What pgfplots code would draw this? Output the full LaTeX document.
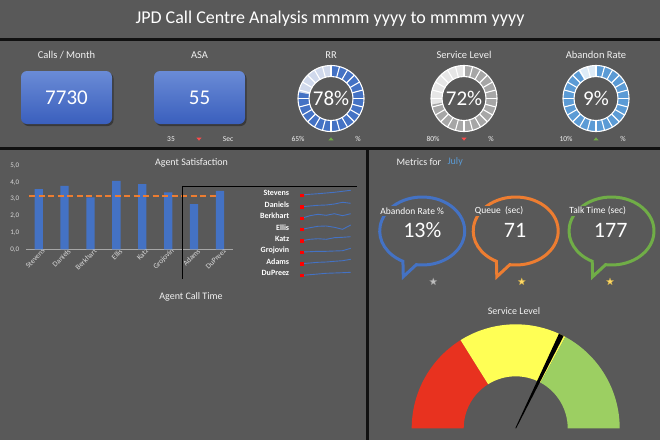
\documentclass[border=0pt]{standalone}
\usepackage{pgfplots}
\pgfplotsset{compat=1.18}
\usepackage{fontspec}
\setmainfont{Carlito}
\usetikzlibrary{calc,shapes.geometric}

\definecolor{bg}{HTML}{595959}
\definecolor{sep}{HTML}{111111}
\definecolor{txt}{HTML}{F2F2F2}
\definecolor{kpitop}{HTML}{6A8BD6}
\definecolor{kpibot}{HTML}{3A5FBD}
\definecolor{rrdark}{HTML}{4472C4}
\definecolor{rrlight}{HTML}{D0D9EC}
\definecolor{sldark}{HTML}{A6A6A6}
\definecolor{sllight}{HTML}{E6E6E6}
\definecolor{abdark}{HTML}{5B9BD5}
\definecolor{ablight}{HTML}{DDEBF7}
\definecolor{barblue}{HTML}{4472C4}
\definecolor{dashor}{HTML}{ED7D31}
\definecolor{bubblue}{HTML}{4472C4}
\definecolor{buborange}{HTML}{ED7D31}
\definecolor{bubgreen}{HTML}{70AD47}
\definecolor{julyblue}{HTML}{5B9BD5}
\definecolor{gred}{HTML}{E8321F}
\definecolor{gyellow}{HTML}{FFFF55}
\definecolor{ggreen}{HTML}{9CCF62}
\definecolor{upgreen}{HTML}{70AD47}
\definecolor{downred}{HTML}{FF4B4B}
\definecolor{ticktxt}{HTML}{D9D9D9}
\definecolor{baseline}{HTML}{A6A6A6}
\definecolor{stargray}{HTML}{BFBFBF}
\definecolor{stargold}{HTML}{FFD966}

% segmented progress ring: centre x, centre y, filled percent, fill colour, empty colour, label
\newcommand{\donut}[6]{%
  \pgfmathsetmacro{\endang}{90-3.6*#3}%
  \fill[#5,even odd rule] (#1,#2) circle[radius=33pt] (#1,#2) circle[radius=22pt];
  \fill[#4] ($(#1,#2)+(90:33pt)$) arc[start angle=90,end angle=\endang,radius=33pt]
        -- ($(#1,#2)+(\endang:22pt)$) arc[start angle=\endang,end angle=90,radius=22pt] -- cycle;
  \foreach \a in {0,15,...,345}
    \draw[white,line width=1.1pt] ($(#1,#2)+(\a:22pt)$) -- ($(#1,#2)+(\a:33pt)$);
  \draw[white,line width=1.1pt] (#1,#2) circle[radius=33pt] (#1,#2) circle[radius=22pt];
  \node[text=white,font=\fontsize{21}{21}\selectfont] at (#1,#2) {#6};
}
\newcommand{\uptri}[2]{\fill[upgreen] ($(#1,#2)+(-2.6,-1.4)$) -- ($(#1,#2)+(2.6,-1.4)$) -- ($(#1,#2)+(0,1.6)$) -- cycle;}
\newcommand{\downtri}[2]{\fill[downred] ($(#1,#2)+(-2.6,1.4)$) -- ($(#1,#2)+(2.6,1.4)$) -- ($(#1,#2)+(0,-1.6)$) -- cycle;}
% speech bubble outline: centre x, centre y, colour
\newcommand{\bubble}[3]{%
  \draw[#3,line width=3pt,line join=miter]
    ($(#1,#2)+(262:42.5pt and 34pt)$) arc[start angle=262,end angle=603,x radius=42.5pt,y radius=34pt]
    -- ($(#1,#2)+(-18.9,-45.7)$) -- cycle;
}

\begin{document}
\begin{tikzpicture}[x=1pt,y=1pt]
% background and panel separators
\fill[bg] (0,0) rectangle (660,-440);
\fill[sep] (0,-38.3) rectangle (660,-40.8);
\fill[sep] (0,-147.3) rectangle (660,-150.3);
\fill[sep] (366,-150) rectangle (369.3,-440);

% title
\node[text=white,font=\fontsize{18}{20}\selectfont] at (330,-19) {JPD Call Centre Analysis mmmm yyyy to mmmm yyyy};

% KPI tiles
\begin{scope}[every node/.style={text=txt,font=\fontsize{10.5}{12}\selectfont}]
\node at (66.5,-55) {Calls / Month};
\node at (199.5,-55) {ASA};
\node at (331,-55) {RR};
\node at (464,-55) {Service Level};
\node at (596,-55) {Abandon Rate};
\end{scope}
\fill[black,opacity=0.35,rounded corners=6pt] (22.5,-72.5) rectangle (113.5,-126);
\shade[top color=kpitop,bottom color=kpibot,rounded corners=6pt] (21,-71) rectangle (112,-124);
\fill[black,opacity=0.35,rounded corners=6pt] (155.5,-72.5) rectangle (246.5,-126);
\shade[top color=kpitop,bottom color=kpibot,rounded corners=6pt] (154,-71) rectangle (245,-124);
\node[text=white,font=\fontsize{21}{21}\selectfont] at (66.5,-98) {7730};
\node[text=white,font=\fontsize{21}{21}\selectfont] at (199.5,-98) {55};

\donut{331}{-98.5}{78}{rrdark}{rrlight}{78\%}
\donut{464}{-98.5}{72}{sldark}{sllight}{72\%}
\donut{596}{-98.5}{91}{abdark}{ablight}{9\%}

\begin{scope}[every node/.style={text=txt,font=\fontsize{7.5}{8}\selectfont}]
\node at (171,-139) {35};  \node at (228,-139) {Sec};
\node at (298,-139) {65\%}; \node at (358,-139) {\%};
\node at (433,-139) {80\%}; \node at (491,-139) {\%};
\node at (566,-139) {10\%}; \node at (623,-139) {\%};
\end{scope}
\downtri{199}{-139}
\uptri{331}{-139}
\downtri{464}{-139}
\uptri{596}{-139}

% agent satisfaction
\node[text=txt,font=\fontsize{10}{12}\selectfont] at (191.5,-163.3) {Agent Satisfaction};
\node[text=txt,font=\fontsize{10}{12}\selectfont] at (191,-296.7) {Agent Call Time};

\begin{axis}[
  at={(25.75pt,-249.3pt)}, anchor=south west,
  scale only axis, width=207.2pt, height=83.6pt,
  xmin=-0.5, xmax=7.5, ymin=0, ymax=5,
  axis x line*=bottom, axis y line*=left,
  x axis line style={draw=baseline,line width=0.9pt},
  y axis line style={draw=none},
  major tick length=0pt,
  xtick={0,...,7},
  xticklabels={Stevens,Daniels,Berkhart,Ellis,Katz,Grojovin,Adams,DuPreez},
  xticklabel style={text=ticktxt,font=\fontsize{7.5}{8}\selectfont,rotate=45,anchor=east,xshift=4pt,yshift=-4pt,inner sep=1pt},
  ytick={0,1,2,3,4,5},
  /pgf/number format/assume math mode=true,
  yticklabel style={text=ticktxt,font=\fontsize{7}{8}\selectfont,xshift=-3pt,
    /pgf/number format/fixed,/pgf/number format/fixed zerofill,
    /pgf/number format/precision=1,/pgf/number format/use comma},
  clip=false,
]
\addplot[ybar,bar width=8.3pt,fill=barblue,draw=none]
  coordinates {(0,3.6) (1,3.8) (2,3.1) (3,4.1) (4,3.9) (5,3.4) (6,2.7) (7,3.5)};
\addplot[dashor,line width=2pt,dash pattern=on 6pt off 3.5pt]
  coordinates {(-0.37,3.2) (6.83,3.2)};
\end{axis}

% sparkline table
\draw[baseline,line width=0.8pt] (182.3,-186.7) -- (356.5,-186.7);
\draw[black,line width=0.9pt] (182.3,-186.7) -- (182.3,-279);
\begin{scope}[every node/.style={text=white,font=\fontsize{8}{9}\selectfont\bfseries,anchor=east}]
\node at (292.7,-193.3) {Stevens};
\node at (292.7,-204.6) {Daniels};
\node at (292.7,-216) {Berkhart};
\node at (292.7,-227.5) {Ellis};
\node at (292.7,-238.9) {Katz};
\node at (292.7,-250.3) {Grojovin};
\node at (292.7,-261.7) {Adams};
\node at (292.7,-273.3) {DuPreez};
\end{scope}

\begin{axis}[
  at={(301.7pt,-279pt)}, anchor=south west,
  scale only axis, width=49pt, height=92.3pt,
  xmin=1, xmax=7, ymin=0, ymax=92.3,
  hide axis, clip=false,
]
\addplot[barblue,line width=0.9pt] coordinates {(1,84) (2,84.7) (3,85.3) (4,86) (5,86.7) (6,87.7) (7,88.7)};
\addplot[barblue,line width=0.9pt] coordinates {(1,72.3) (2,73) (3,73.7) (4,74) (5,75) (6,76.7) (7,75.7)};
\addplot[barblue,line width=0.9pt] coordinates {(1,60.7) (2,63.3) (3,64.7) (4,63.7) (5,65.3) (6,63.3) (7,65.3)};
\addplot[barblue,line width=0.9pt] coordinates {(1,49.7) (2,51.3) (3,52.7) (4,53) (5,51.7) (6,49.7) (7,54)};
\addplot[barblue,line width=0.9pt] coordinates {(1,38.3) (2,39.7) (3,40.3) (4,39.7) (5,41.3) (6,41.7) (7,42.3)};
\addplot[barblue,line width=0.9pt] coordinates {(1,27) (2,27.3) (3,27.7) (4,27.7) (5,28) (6,28.3) (7,30.7)};
\addplot[barblue,line width=0.9pt] coordinates {(1,15.3) (2,16) (3,16.7) (4,17) (5,17.7) (6,18.3) (7,19.7)};
\addplot[barblue,line width=0.9pt] coordinates {(1,3.7) (2,4.3) (3,5) (4,5.7) (5,6) (6,6.3) (7,6.7)};
\addplot[only marks,mark=square*,mark size=1.3pt,color=red]
  coordinates {(1,84) (1,72.3) (1,60.7) (1,49.7) (1,38.3) (1,27) (1,15.3) (1,3.7)};
\end{axis}

% metrics for the month
\node[anchor=west,text=txt,font=\fontsize{10}{12}\selectfont] at (393,-162.3) {Metrics for};
\node[anchor=west,text=julyblue,font=\fontsize{10}{12}\selectfont] at (444,-162.3) {July};

\bubble{422.2}{-231}{bubblue}
\bubble{515.7}{-231}{buborange}
\bubble{611.5}{-231}{bubgreen}

\begin{scope}[every node/.style={anchor=west,text=white,fill=bg,inner sep=1.2pt,font=\fontsize{9.5}{11}\selectfont}]
\node at (379,-211) {Abandon Rate \%};
\node at (473.5,-211) {Queue\ \ (sec)};
\node at (568,-211) {Talk Time (sec)};
\end{scope}
\begin{scope}[every node/.style={text=white,font=\fontsize{22}{22}\selectfont}]
\node at (422.3,-230.5) {13\%};
\node at (515,-230.5) {71};
\node at (610.7,-230.5) {177};
\end{scope}
\node[star,star points=5,star point ratio=2.3,fill=stargray,draw=stargray!70!black,line width=0.3pt,minimum size=7.5pt,inner sep=0pt] at (433.3,-281.7) {};
\node[star,star points=5,star point ratio=2.3,fill=stargold,draw=stargold!70!black,line width=0.3pt,minimum size=7.5pt,inner sep=0pt] at (521.7,-281.7) {};
\node[star,star points=5,star point ratio=2.3,fill=stargold,draw=stargold!70!black,line width=0.3pt,minimum size=7.5pt,inner sep=0pt] at (610,-281.7) {};

% service level gauge
\node[text=txt,font=\fontsize{10}{12}\selectfont] at (514,-310.7) {Service Level};
\coordinate (g) at (515.7,-428.3);
\fill[gred] ($(g)+(180:104pt)$) arc[start angle=180,end angle=122,radius=104pt]
  -- ($(g)+(122:52pt)$) arc[start angle=122,end angle=180,radius=52pt] -- cycle;
\fill[gyellow] ($(g)+(122:104pt)$) arc[start angle=122,end angle=61.5,radius=104pt]
  -- ($(g)+(61.5:52pt)$) arc[start angle=61.5,end angle=122,radius=52pt] -- cycle;
\fill[ggreen] ($(g)+(61.5:104pt)$) arc[start angle=61.5,end angle=0,radius=104pt]
  -- ($(g)+(0:52pt)$) arc[start angle=0,end angle=61.5,radius=52pt] -- cycle;
\fill[black] ($(g)+(154:0.4pt)$) -- ($(g)+(-26:0.4pt)$)
  -- ($(g)+(64:104pt)+(-26:2.6pt)$) -- ($(g)+(64:104pt)+(154:2.6pt)$) -- cycle;

\pgfresetboundingbox
\useasboundingbox (0,0) rectangle (660,-440);
\end{tikzpicture}
\end{document}
